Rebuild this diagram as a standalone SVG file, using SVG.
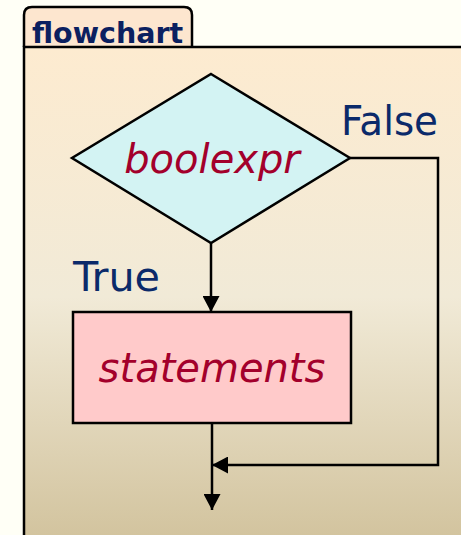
<svg xmlns="http://www.w3.org/2000/svg" width="461" height="535" viewBox="0 0 461 535">
  <defs>
    <linearGradient id="bodyFill" x1="0" y1="0" x2="0" y2="1">
      <stop offset="0" stop-color="#fdebd0"/>
      <stop offset="0.5" stop-color="#f1ead7"/>
      <stop offset="1" stop-color="#d1c29c"/>
    </linearGradient>
    <marker id="arrow" viewBox="0 0 16 17" refX="16" refY="8.5" markerWidth="16" markerHeight="17" markerUnits="userSpaceOnUse" orient="auto">
      <path d="M0,0 L16,8.5 L0,17 Z" fill="#000"/>
    </marker>
    <style>
      .frame { stroke: #000; stroke-width: 2.5; }
      .node { stroke: #000; stroke-width: 2.5; }
      .conn { fill: none; stroke: #000; stroke-width: 2.5; marker-end: url(#arrow); }
      .label { font-family: "DejaVu Sans Condensed", "DejaVu Sans", Verdana, sans-serif; font-stretch: condensed; fill: #0b2a6a; font-size: 41px; }
      .code { font-family: "DejaVu Sans", Verdana, sans-serif; font-style: italic; fill: #a3002b; font-size: 40px; text-anchor: middle; }
      .title { font-family: "DejaVu Sans", Verdana, sans-serif; font-weight: bold; fill: #0b2060; font-size: 28.5px; }
    </style>
  </defs>

  <rect width="461" height="535" fill="#fffff6"/>

  <!-- frame with title tab -->
  <g id="frame">
    <path class="frame" d="M24,47 L24,15 Q24,7 32,7 L184,7 Q192,7 192,15 L192,47" fill="#fde6cf"/>
    <rect x="24" y="47" width="445" height="500" fill="url(#bodyFill)"/>
    <path class="frame" d="M24,545 L24,47 L461,47" fill="none"/>
    <text class="title" x="32" y="43">flowchart</text>
  </g>

  <!-- connectors -->
  <g id="connectors">
    <path class="conn" d="M211,243 L211,312"/>
    <path class="conn" d="M350,158 L438,158 L438,465 L212,465"/>
    <path class="conn" d="M212,423 L212,510"/>
    <text class="label" x="341" y="135" textLength="97" lengthAdjust="spacingAndGlyphs">False</text>
    <text class="label" x="73" y="291" textLength="87" lengthAdjust="spacingAndGlyphs">True</text>
  </g>

  <g id="decision">
    <polygon class="node" points="211,74 350,158 211,243 72,158" fill="#d3f3f3"/>
    <text class="code" x="212" y="173">boolexpr</text>
  </g>

  <g id="statements">
    <rect class="node" x="73" y="312" width="278" height="111" fill="#ffcaca"/>
    <text class="code" x="212" y="382">statements</text>
  </g>
</svg>
